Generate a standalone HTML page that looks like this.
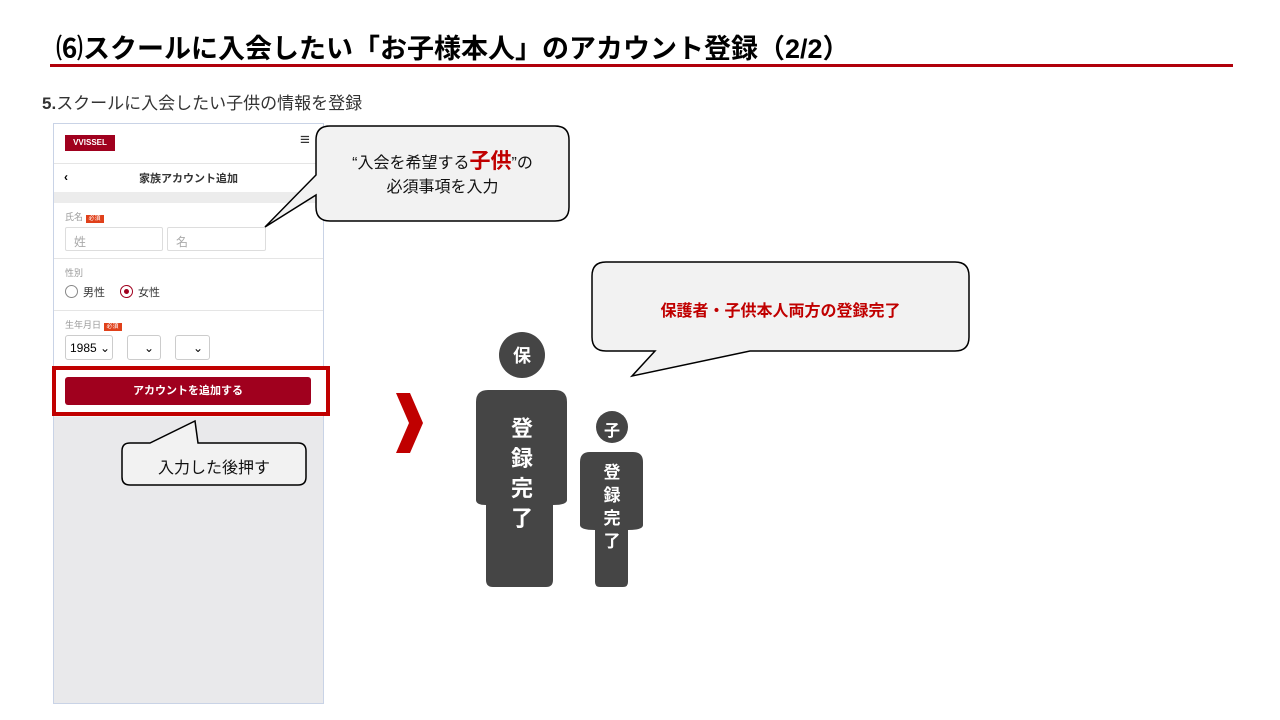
<!DOCTYPE html>
<html><head><meta charset="utf-8"><style>
body{margin:0;width:1280px;height:720px;background:#fff;position:relative;overflow:hidden;font-family:"Liberation Sans","Noto Sans CJK JP",sans-serif}
.a{position:absolute}
.ph{left:53px;top:123px;width:269px;height:579px;border:1px solid #c9d3e6;background:#e9e9eb}
.in{border:1px solid #ddd;background:#fff;border-radius:2px;color:#aaa;font-size:12px;box-sizing:border-box;padding:5px 8px}
.sel{border:1px solid #ccc;border-radius:3px;background:#fff;box-sizing:border-box;font-size:12px;padding:5px 6px;white-space:nowrap}
.req{background:#e0401a;color:#fff;font-size:6px;padding:1px 3px}
.lab{font-size:9px;color:#999}
</style></head><body>
<div class="a" style="left:56px;top:27px;font-size:27px;font-weight:bold;color:#000;white-space:nowrap">⑹スクールに入会したい「お子様本人」のアカウント登録（2/2）</div>
<div class="a" style="left:50px;top:64px;width:1183px;height:3px;background:#b0000b"></div>
<div class="a" style="left:42px;top:89px;font-size:17px;color:#333"><b>5.</b>スクールに入会したい子供の情報を登録</div>

<div class="a ph">
 <div class="a" style="left:0;top:0;width:269px;height:243px;background:#fff"></div>
 <div class="a" style="left:11px;top:11px;width:50px;height:16px;background:#a0001e;color:#fff;font-size:8px;font-weight:bold;text-align:center;line-height:16px">VVISSEL</div>
 <div class="a" style="left:246px;top:6px;font-size:17px;color:#333">≡</div>
 <div class="a" style="left:0;top:39px;width:269px;height:1px;background:#e5e5e5"></div>
 <div class="a" style="left:10px;top:46px;font-size:12px;font-weight:bold">‹</div>
 <div class="a" style="left:0;top:46px;width:269px;text-align:center;font-size:11px;font-weight:bold;color:#333">家族アカウント追加</div>
 <div class="a" style="left:0;top:68px;width:269px;height:11px;background:#ececec"></div>
 <div class="a lab" style="left:11px;top:86px">氏名 <span class="req">必須</span></div>
 <div class="a in" style="left:11px;top:103px;width:98px;height:24px">姓</div>
 <div class="a in" style="left:113px;top:103px;width:99px;height:24px">名</div>
 <div class="a" style="left:0;top:134px;width:269px;height:1px;background:#e5e5e5"></div>
 <div class="a lab" style="left:11px;top:142px">性別</div>
 <div class="a" style="left:11px;top:161px;width:11px;height:11px;border:1px solid #888;border-radius:50%"></div>
 <div class="a" style="left:29px;top:160px;font-size:11px;color:#333">男性</div>
 <div class="a" style="left:66px;top:161px;width:11px;height:11px;border:1px solid #a0001e;border-radius:50%"></div>
 <div class="a" style="left:70px;top:165px;width:5px;height:5px;background:#a0001e;border-radius:50%"></div>
 <div class="a" style="left:84px;top:160px;font-size:11px;color:#333">女性</div>
 <div class="a" style="left:0;top:186px;width:269px;height:1px;background:#e5e5e5"></div>
 <div class="a lab" style="left:11px;top:194px">生年月日 <span class="req">必須</span></div>
 <div class="a sel" style="left:11px;top:211px;width:48px;height:25px;padding:5px 4px">1985 ⌄</div>
 <div class="a sel" style="left:73px;top:211px;width:34px;height:25px;text-align:right">⌄</div>
 <div class="a sel" style="left:121px;top:211px;width:35px;height:25px;text-align:right">⌄</div>
 <div class="a" style="left:0;top:243px;width:269px;height:50px;background:#f4f4f4"></div>
</div>
<div class="a" style="left:52px;top:366px;width:270px;height:42px;border:4px solid #c00000;box-sizing:content-box;background:#fff"></div>
<div class="a" style="left:65px;top:377px;width:246px;height:28px;background:#a0001e;border-radius:3px;color:#fff;font-size:11px;font-weight:bold;text-align:center;line-height:28px">アカウントを追加する</div>

<svg class="a" style="left:0;top:0" width="1280" height="720">
 <g fill="#f2f2f2" stroke="#000" stroke-width="1.5">
  <path d="M330 126 H555 Q569 126 569 140 V207 Q569 221 555 221 H330 Q316 221 316 207 V195 L265 227 L316 175 V140 Q316 126 330 126Z"/>
  <path d="M606 262 H955 Q969 262 969 276 V337 Q969 351 955 351 H750 L632 376 L655 351 H606 Q592 351 592 337 V276 Q592 262 606 262Z"/>
  <path d="M130 443 H150 L195 421 L198 443 H298 Q306 443 306 451 V477 Q306 485 298 485 H130 Q122 485 122 477 V451 Q122 443 130 443Z"/>
 </g>
 <path d="M396 393 H410 L423 423 L410 453 H396 L409 423Z" fill="#c00000"/>
 <g fill="#454545">
  <circle cx="522" cy="355" r="23"/>
  <path d="M488 390 H555 Q567 390 567 402 V500 Q567 505 553 505 V580 Q553 587 546 587 H493 Q486 587 486 580 V505 Q476 505 476 500 V402 Q476 390 488 390Z"/>
  <circle cx="612" cy="427" r="16"/>
  <path d="M590 452 H633 Q643 452 643 462 V525 Q643 530 628 530 V582 Q628 587 623 587 H600 Q595 587 595 582 V530 Q580 530 580 525 V462 Q580 452 590 452Z"/>
 </g>
</svg>
<div class="a" style="left:316px;top:150px;width:253px;text-align:center;font-size:16px;line-height:24px;color:#111">“入会を希望する<b style="color:#c00000;font-size:21px">子供</b>”の<br>必須事項を入力</div>
<div class="a" style="left:592px;top:297px;width:377px;text-align:center;font-size:16px;font-weight:bold;color:#c00000">保護者・子供本人両方の登録完了</div>
<div class="a" style="left:122px;top:454px;width:184px;text-align:center;font-size:16px;color:#111">入力した後押す</div>
<div class="a" style="left:499px;top:342px;width:46px;text-align:center;color:#fff;font-weight:bold;font-size:18px">保</div>
<div class="a" style="left:499px;top:414px;width:46px;text-align:center;color:#fff;font-weight:bold;font-size:22px;line-height:30px">登<br>録<br>完<br>了</div>
<div class="a" style="left:596px;top:417px;width:32px;text-align:center;color:#fff;font-weight:bold;font-size:16px">子</div>
<div class="a" style="left:596px;top:461px;width:32px;text-align:center;color:#fff;font-weight:bold;font-size:17px;line-height:23px">登<br>録<br>完<br>了</div>
</body></html>
